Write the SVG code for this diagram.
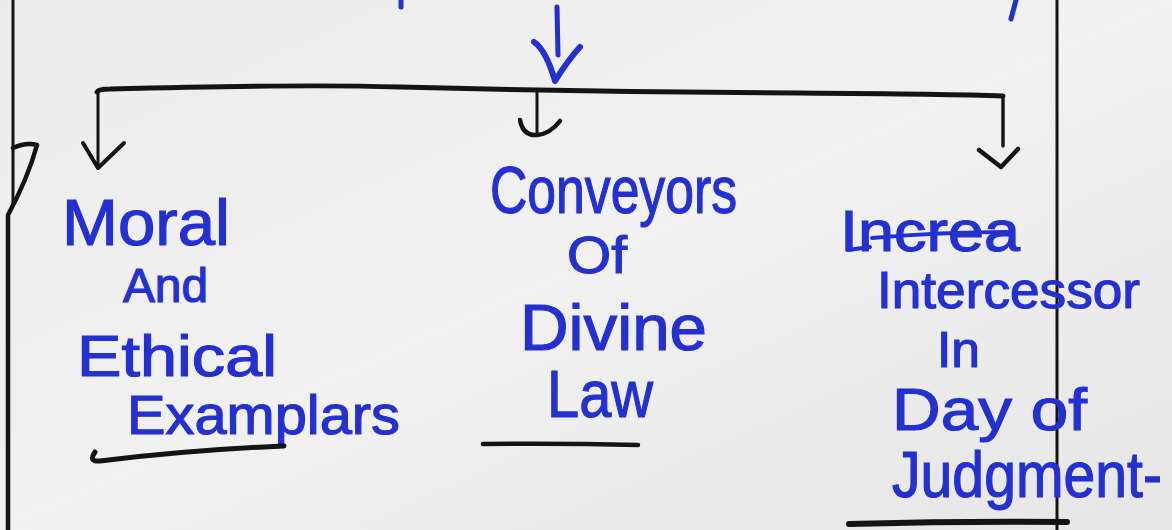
<svg xmlns="http://www.w3.org/2000/svg" width="1172" height="530" viewBox="0 0 1172 530">
  <defs>
    <linearGradient id="paper" x1="0" y1="0" x2="1" y2="1">
      <stop offset="0" stop-color="#ececec"/>
      <stop offset="0.5" stop-color="#f1f1f1"/>
      <stop offset="1" stop-color="#e6e6e6"/>
    </linearGradient>
  </defs>
  <style>
    .ink { font-family: "Liberation Sans", Arial, sans-serif; fill: #2430d0; stroke: #2430d0; stroke-width: 1.2; }
    .blk { fill: none; stroke: #141414; stroke-linecap: round; stroke-linejoin: round; }
    .blue { fill: none; stroke: #2430d0; stroke-linecap: round; stroke-linejoin: round; }
  </style>
  <rect width="1172" height="530" fill="url(#paper)"/>

  <!-- page frame / margin lines -->
  <g id="frame">
    <path class="blk" d="M13,0 L13,205" stroke-width="3"/>
    <path class="blk" d="M13,148 Q26,142 37,145 Q28,178 8,215 L8,530" stroke-width="4.5"/>
    <path class="blk" d="M1057,0 L1057,530" stroke-width="3"/>
  </g>

  <!-- cut-off blue fragments at the top -->
  <g id="top-fragments">
    <path class="blue" d="M401,0 L401,7" stroke-width="5"/>
    <path class="blue" d="M1016,0 L1011,19" stroke-width="5"/>
  </g>

  <g id="connectors">
    <!-- blue down arrow -->
    <path class="blue" d="M557,7 L558,55" stroke-width="5"/>
    <path class="blue" d="M534,42 Q546,50 555,81 Q568,60 580,47" stroke-width="6"/>
    <!-- bracket bar -->
    <path class="blk" d="M97,92 Q98,89 110,89 Q300,84 400,87 Q600,92 800,93 Q950,94 1003,96" stroke-width="5"/>
    <!-- left drop -->
    <path class="blk" d="M98,90 L98,168" stroke-width="3"/>
    <path class="blk" d="M83,143 L98,168 L124,143" stroke-width="4"/>
    <!-- middle drop -->
    <path class="blk" d="M537,90 L537,133" stroke-width="3"/>
    <path class="blk" d="M520,120 Q523,136 537,135 Q550,134 560,121" stroke-width="4.5"/>
    <!-- right drop -->
    <path class="blk" d="M1003,96 L1003,146" stroke-width="3.5"/>
    <path class="blk" d="M979,150 L1001,167 L1018,149" stroke-width="4.5"/>
  </g>

  <g id="node-moral">
    <text class="ink" x="62" y="245" font-size="64" textLength="168" lengthAdjust="spacingAndGlyphs">Moral</text>
    <text class="ink" x="123" y="302" font-size="48" textLength="85" lengthAdjust="spacingAndGlyphs">And</text>
    <text class="ink" x="77" y="376" font-size="58" textLength="200" lengthAdjust="spacingAndGlyphs">Ethical</text>
    <text class="ink" x="127" y="434" font-size="56" textLength="273" lengthAdjust="spacingAndGlyphs">Examplars</text>
    <path class="blk" d="M95,452 Q88,462 100,461 Q190,450 284,446" stroke-width="5"/>
  </g>

  <g id="node-conveyors">
    <text class="ink" x="490" y="213" font-size="66" textLength="247" lengthAdjust="spacingAndGlyphs">Conveyors</text>
    <text class="ink" x="567" y="273" font-size="52" textLength="60" lengthAdjust="spacingAndGlyphs">Of</text>
    <text class="ink" x="520" y="350" font-size="64" textLength="187" lengthAdjust="spacingAndGlyphs">Divine</text>
    <text class="ink" x="547" y="417" font-size="66" textLength="106" lengthAdjust="spacingAndGlyphs">Law</text>
    <path class="blk" d="M483,444 Q560,443 638,445" stroke-width="4.5"/>
  </g>

  <g id="node-intercessor">
    <text class="ink" x="840" y="251" font-size="58" textLength="180" lengthAdjust="spacingAndGlyphs">Increa</text>
    <path class="blue" d="M848,250 L870,247 M872,238 Q940,232 1008,232" stroke-width="4"/>
    <text class="ink" x="877" y="308" font-size="52" textLength="263" lengthAdjust="spacingAndGlyphs">Intercessor</text>
    <text class="ink" x="937" y="367" font-size="50" textLength="43" lengthAdjust="spacingAndGlyphs">In</text>
    <text class="ink" x="892" y="430" font-size="60" textLength="195" lengthAdjust="spacingAndGlyphs">Day of</text>
    <text class="ink" x="892" y="497" font-size="64" textLength="270" lengthAdjust="spacingAndGlyphs">Judgment-</text>
    <path class="blk" d="M849,524 Q960,521 1067,522" stroke-width="6"/>
  </g>
</svg>
